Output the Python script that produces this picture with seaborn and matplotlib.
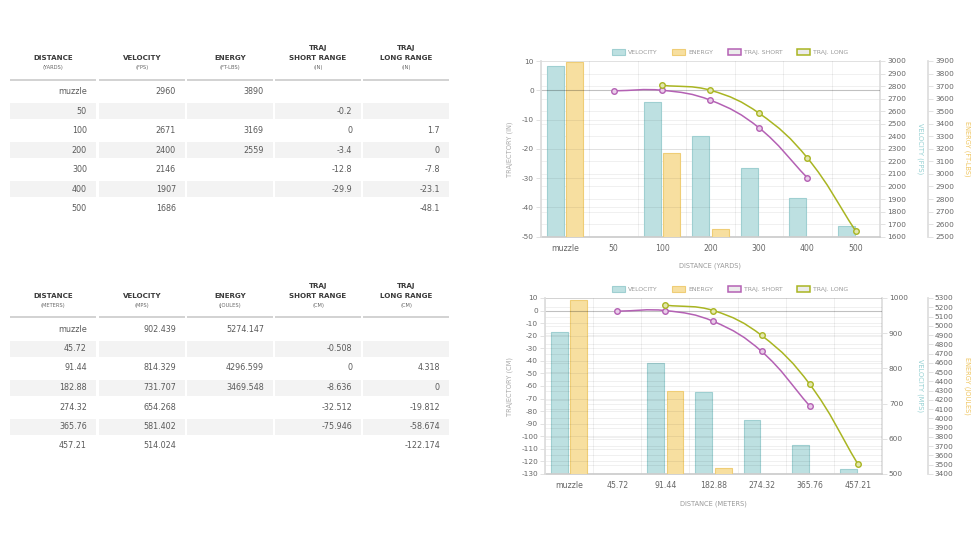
import numpy as np
import pandas as pd
import matplotlib.pyplot as plt
import seaborn as sns
from matplotlib.patches import Rectangle, Patch, PathPatch
from matplotlib.path import Path

# ── data ───────────────────────────────────────────────────────────────────
DIST_YD       = ["muzzle", "50", "100", "200", "300", "400", "500"]
VEL_FPS       = [2960, None, 2671, 2400, 2146, 1907, 1686]
ENERGY_FTLBS  = [3890, None, 3169, 2559, None, None, None]
TRAJ_SHORT_IN = [None, -0.2, 0, -3.4, -12.8, -29.9, None]
TRAJ_LONG_IN  = [None, None, 1.7, 0, -7.8, -23.1, -48.1]

DIST_M        = ["muzzle", "45.72", "91.44", "182.88", "274.32", "365.76", "457.21"]
VEL_MPS       = [902.439, None, 814.329, 731.707, 654.268, 581.402, 514.024]
ENERGY_J      = [5274.147, None, 4296.599, 3469.548, None, None, None]
TRAJ_SHORT_CM = [None, -0.508, 0, -8.636, -32.512, -75.946, None]
TRAJ_LONG_CM  = [None, None, 4.318, 0, -19.812, -58.674, -122.174]

HEADERS_IMP = [("DISTANCE", "(YARDS)"), ("VELOCITY", "(FPS)"), ("ENERGY", "(FT-LBS)"),
               ("TRAJ\nSHORT RANGE", "(IN)"), ("TRAJ\nLONG RANGE", "(IN)")]
HEADERS_MET = [("DISTANCE", "(METERS)"), ("VELOCITY", "(MPS)"), ("ENERGY", "(JOULES)"),
               ("TRAJ\nSHORT RANGE", "(CM)"), ("TRAJ\nLONG RANGE", "(CM)")]

LEGEND_LABELS = ["VELOCITY", "ENERGY", "TRAJ. SHORT", "TRAJ. LONG"]

# ── style ─────────────────────────────────────────────────────────────────
W, H = 978, 550
VEL_FILL, VEL_EDGE = "#bde0e1", "#9fcfd1"
EN_FILL, EN_EDGE = "#f7dfa0", "#efcd76"
SHORT_C, SHORT_FILL = "#b461b4", "#e9cde9"
LONG_C, LONG_FILL = "#a9b522", "#e3e7ae"
VEL_LABEL_C, EN_LABEL_C = "#94d0d2", "#efc55e"
GRID_KW = dict(color="black", alpha=0.07, lw=0.6)
TICK_C = "#dddddd"
TXT_C = "#666666"

sns.set_theme(style="white")
plt.rcParams["font.family"] = ["DejaVu Sans"]
plt.rcParams["axes.unicode_minus"] = False

fig = plt.figure(figsize=(W / 100, H / 100), dpi=100)


def fx(x):
    return x / W


def fy(y):
    return 1 - y / H


# ══════════════════════════════════════════════════════════════════════════
# TABLES
# ══════════════════════════════════════════════════════════════════════════
COL_X = [10, 99, 187, 275, 363]
COL_W = 86


def draw_table(headers, columns, title_y, line_y, row0_y, row_step):
    for j, x0 in enumerate(COL_X):
        xc = x0 + COL_W / 2
        lines = headers[j][0].split("\n")
        for k, line in enumerate(reversed(lines)):
            fig.text(fx(xc), fy(title_y - 10 * k), line, ha="center", va="center",
                     fontsize=5.1, weight="bold", color="#3a3a3a")
        fig.text(fx(xc), fy(title_y + 10), headers[j][1], ha="center", va="center",
                 fontsize=3.7, color="#666666")
        fig.add_artist(Rectangle((fx(x0), fy(line_y + 1)), COL_W / W, 2 / H,
                                 transform=fig.transFigure, color="#d3d3d3", lw=0))
        for i, v in enumerate(columns[j]):
            y = row0_y + i * row_step
            if i % 2 == 1:
                fig.add_artist(Rectangle((fx(x0), fy(y + 8)), COL_W / W, 16 / H,
                                         transform=fig.transFigure, color="#f3f3f3", lw=0))
            if v is not None:
                fig.text(fx(x0 + COL_W - 9), fy(y), str(v), ha="right", va="center",
                         fontsize=5.8, color="#5a5a5a")


draw_table(HEADERS_IMP, [DIST_YD, VEL_FPS, ENERGY_FTLBS, TRAJ_SHORT_IN, TRAJ_LONG_IN],
           title_y=58, line_y=80, row0_y=92, row_step=19.4)
draw_table(HEADERS_MET, [DIST_M, VEL_MPS, ENERGY_J, TRAJ_SHORT_CM, TRAJ_LONG_CM],
           title_y=296, line_y=317, row0_y=329, row_step=19.5)


# ══════════════════════════════════════════════════════════════════════════
# CHARTS
# ══════════════════════════════════════════════════════════════════════════
def bezier_path(ax, xs, ys, tension=0.4):
    # chart.js style spline through the data points (display space)
    pts = ax.transData.transform(np.column_stack([xs, ys]))
    n = len(pts)
    prev_cp, next_cp = [], []
    for i in range(n):
        p0, p1, p2 = pts[max(i - 1, 0)], pts[i], pts[min(i + 1, n - 1)]
        d01 = np.hypot(*(p1 - p0))
        d12 = np.hypot(*(p2 - p1))
        tot = d01 + d12
        s01 = d01 / tot if tot else 0
        s12 = d12 / tot if tot else 0
        prev_cp.append(p1 - tension * s01 * (p2 - p0))
        next_cp.append(p1 + tension * s12 * (p2 - p0))
    verts, codes = [pts[0]], [Path.MOVETO]
    for i in range(1, n):
        verts += [next_cp[i - 1], prev_cp[i], pts[i]]
        codes += [Path.CURVE4] * 3
    verts = ax.transData.inverted().transform(np.array(verts))
    return Path(verts, codes)


def draw_chart(rect, dist, vel, energy, short, long_, vel_ticks, en_ticks, tr_ticks,
               labels, label_x, xlabel_y, en_offset, legend_xy, energy_grid):
    ax_vel = fig.add_axes(rect)
    ax_en = ax_vel.twinx()
    ax_tr = ax_vel.twinx()

    hue_order = ["Velocity", "Energy"]
    palette = {"Velocity": VEL_FILL, "Energy": EN_FILL}
    df_v = pd.DataFrame({"dist": dist, "value": vel, "series": "Velocity"}).dropna()
    df_e = pd.DataFrame({"dist": dist, "value": energy, "series": "Energy"}).dropna()
    sns.barplot(df_v, x="dist", y="value", hue="series", hue_order=hue_order, order=dist,
                palette=palette, width=0.8, gap=0.13, dodge=True, saturation=1,
                errorbar=None, edgecolor=VEL_EDGE, linewidth=0.8, legend=False, ax=ax_vel)
    sns.barplot(df_e, x="dist", y="value", hue="series", hue_order=hue_order, order=dist,
                palette=palette, width=0.8, gap=0.13, dodge=True, saturation=1,
                errorbar=None, edgecolor=EN_EDGE, linewidth=0.8, legend=False, ax=ax_en)

    n = len(dist)
    ax_vel.set_xlim(-0.5, n - 0.5)
    ax_vel.set_ylim(vel_ticks[0], vel_ticks[-1])
    ax_en.set_ylim(en_ticks[0], en_ticks[-1])
    ax_tr.set_ylim(tr_ticks[0], tr_ticks[-1])
    ax_vel.set_yticks(vel_ticks)
    ax_en.set_yticks(en_ticks)
    ax_tr.set_yticks(tr_ticks)

    for a in (ax_vel, ax_en, ax_tr):
        for s in a.spines.values():
            s.set_visible(False)
    ax_vel.spines["bottom"].set_visible(True)
    ax_vel.spines["bottom"].set_color("#cccccc")
    ax_vel.spines["right"].set_visible(True)
    ax_vel.spines["right"].set_color(TICK_C)
    ax_en.spines["right"].set_visible(True)
    ax_en.spines["right"].set_color(TICK_C)
    ax_en.spines["right"].set_position(("outward", en_offset))
    ax_tr.spines["left"].set_visible(True)
    ax_tr.spines["left"].set_color(TICK_C)

    ax_vel.yaxis.tick_right()
    ax_vel.yaxis.set_label_position("right")
    ax_tr.yaxis.tick_left()
    ax_tr.yaxis.set_label_position("left")
    for a in (ax_vel, ax_en, ax_tr):
        a.tick_params(axis="y", length=3.5, width=0.6, pad=1.5, color=TICK_C,
                      labelcolor=TXT_C, labelsize=5.3)

    ax_vel.set_xticks(np.arange(-0.5, n), minor=True)
    ax_vel.tick_params(axis="x", which="major", length=0, pad=5, labelsize=5.6, labelcolor=TXT_C)
    ax_vel.tick_params(axis="x", which="minor", length=4, width=0.6, color=TICK_C)
    ax_vel.grid(axis="x", which="major", visible=False)
    ax_vel.grid(axis="x", which="minor", **GRID_KW)
    ax_vel.grid(axis="y", **GRID_KW)
    if energy_grid:
        ax_en.grid(axis="y", **GRID_KW)
    ax_tr.grid(axis="y", **GRID_KW)
    ax_tr.axhline(0, color="black", alpha=0.2, lw=0.8, zorder=1)

    # trajectory lines
    xs = np.arange(n)
    for vals, col, fill in ((short, SHORT_C, SHORT_FILL), (long_, LONG_C, LONG_FILL)):
        v = np.array([np.nan if x is None else x for x in vals], dtype=float)
        m = ~np.isnan(v)
        ax_tr.add_patch(PathPatch(bezier_path(ax_tr, xs[m], v[m]), fill=False,
                                  edgecolor=col, lw=1.1, zorder=3))
        sns.scatterplot(x=xs[m], y=v[m], ax=ax_tr, s=16, color=fill, edgecolor=col,
                        linewidth=1.0, zorder=4, legend=False)

    # axis labels
    ax_vel.set_xlabel(labels[0], fontsize=4.8, color="#999999")
    ax_vel.xaxis.set_label_coords(0.5, xlabel_y)
    ax_tr.set_ylabel(labels[1], fontsize=4.8, color="#aaaaaa", va="center")
    ax_tr.yaxis.set_label_coords(label_x[0], 0.5)
    ax_vel.set_ylabel(labels[2], fontsize=4.8, color=VEL_LABEL_C, rotation=270, va="center")
    ax_vel.yaxis.set_label_coords(label_x[1], 0.5)
    ax_en.set_ylabel(labels[3], fontsize=4.8, color=EN_LABEL_C, rotation=270, va="center")
    ax_en.yaxis.set_label_coords(label_x[2], 0.5)

    handles = [Patch(facecolor=VEL_FILL, edgecolor=VEL_EDGE, lw=0.8),
               Patch(facecolor=EN_FILL, edgecolor=EN_EDGE, lw=0.8),
               Patch(facecolor="#ececec", edgecolor=SHORT_C, lw=1.1),
               Patch(facecolor="#ececec", edgecolor=LONG_C, lw=1.1)]
    fig.legend(handles, LEGEND_LABELS, loc="center", bbox_to_anchor=legend_xy, ncol=4,
               frameon=False, fontsize=4.4, handlelength=2.1, handleheight=1.0,
               handletextpad=0.5, columnspacing=2.4, labelcolor="#999999")


draw_chart([fx(541), fy(236.7), 339 / W, 175.7 / H],
           DIST_YD, VEL_FPS, ENERGY_FTLBS, TRAJ_SHORT_IN, TRAJ_LONG_IN,
           vel_ticks=np.arange(1600, 3001, 100), en_ticks=np.arange(2500, 3901, 100),
           tr_ticks=np.arange(-50, 11, 10),
           labels=["DISTANCE (YARDS)", "TRAJECTORY (IN)", "VELOCITY (FPS)", "ENERGY (FT-LBS)"],
           label_x=(-0.091, 1.118, 1.257), xlabel_y=-0.145, en_offset=34.6,
           legend_xy=(fx(730), fy(52)), energy_grid=False)

draw_chart([fx(545), fy(474), 337 / W, 176 / H],
           DIST_M, VEL_MPS, ENERGY_J, TRAJ_SHORT_CM, TRAJ_LONG_CM,
           vel_ticks=np.arange(500, 1001, 100), en_ticks=np.arange(3400, 5301, 100),
           tr_ticks=np.arange(-130, 11, 10),
           labels=["DISTANCE (METERS)", "TRAJECTORY (CM)", "VELOCITY (MPS)", "ENERGY (JOULES)"],
           label_x=(-0.104, 1.113, 1.252), xlabel_y=-0.148, en_offset=33.1,
           legend_xy=(fx(730), fy(289)), energy_grid=True)

fig.savefig("out.png", dpi=100)
